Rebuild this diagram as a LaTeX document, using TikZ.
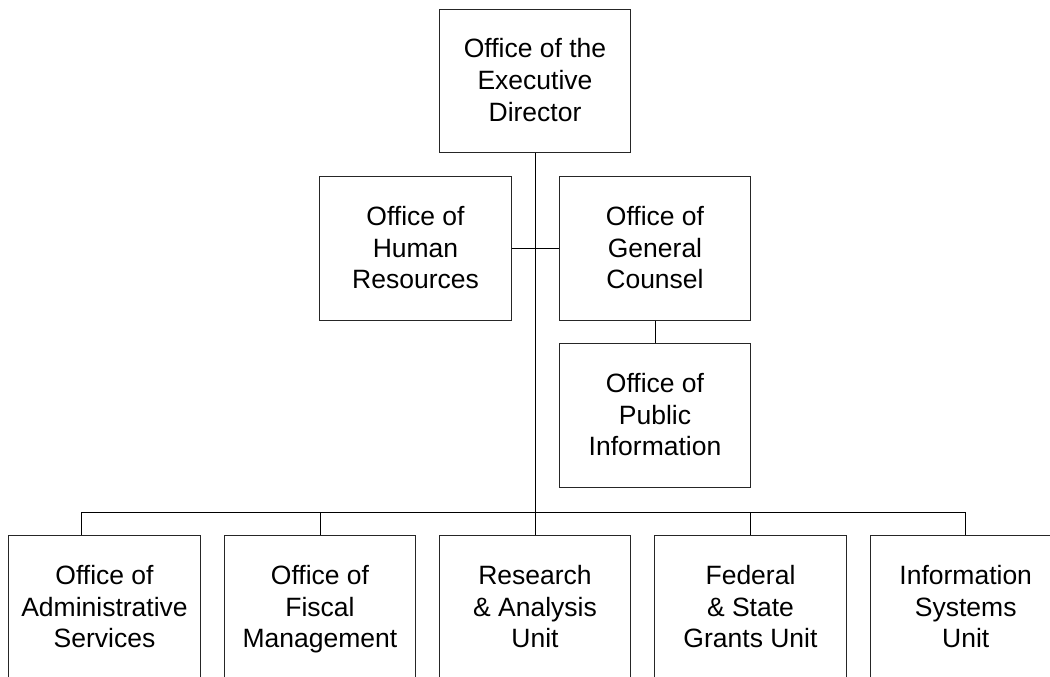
\documentclass[tikz,border=0pt]{standalone}
\usepackage{fontspec}
\setmainfont{Liberation Sans}
\begin{document}
\begin{tikzpicture}[x=1pt,y=-1pt,
  orgbox/.style={draw=black!85, line width=0.9pt, fill=white, minimum width=191.5pt, minimum height=143.5pt,
    inner sep=0pt, align=center, text height=86.4pt, text depth=6pt,
    font=\fontsize{26.5}{31.7}\selectfont},
  conn/.style={draw=black, line width=0.9pt}]
\useasboundingbox (0,0) rectangle (1050,677);
\clip (0,0) rectangle (1050,677);
\fill[white] (0,0) rectangle (1050,677);
% nodes
\node[orgbox] (top) at (535,81) {Office of the\\Executive\\Director};
\node[orgbox] (hr) at (415.5,248.5) {Office of\\Human\\Resources};
\node[orgbox] (gc) at (655,248.5) {Office of\\General\\Counsel};
\node[orgbox] (pi) at (655,415.5) {Office of\\Public\\Information};
\node[orgbox] (adm) at (104.5,607.5) {Office of\\Administrative\\Services};
\node[orgbox] (fis) at (320,607.5) {Office of\\Fiscal\\Management};
\node[orgbox] (res) at (535,607.5) {Research\\\& Analysis\\Unit};
\node[orgbox] (fed) at (750.5,607.5) {Federal\\\& State\\Grants Unit};
\node[orgbox] (inf) at (965.7,607.5) {Information\\Systems\\Unit};
% bus coordinates
\coordinate (busL) at (81,512);
\coordinate (busR) at (965.7,512);
% connectors
\draw[conn] (top.south) -- (res.north);
\draw[conn] (hr.east) -- (gc.west);
\draw[conn] (gc.south) -- (pi.north);
\draw[conn] (busL) -- (busR);
\draw[conn] (busL) -- (busL |- adm.north);
\draw[conn] (fis.north |- busL) -- (fis.north);
\draw[conn] (fed.north |- busL) -- (fed.north);
\draw[conn] (busR) -- (inf.north);
\end{tikzpicture}
\end{document}
